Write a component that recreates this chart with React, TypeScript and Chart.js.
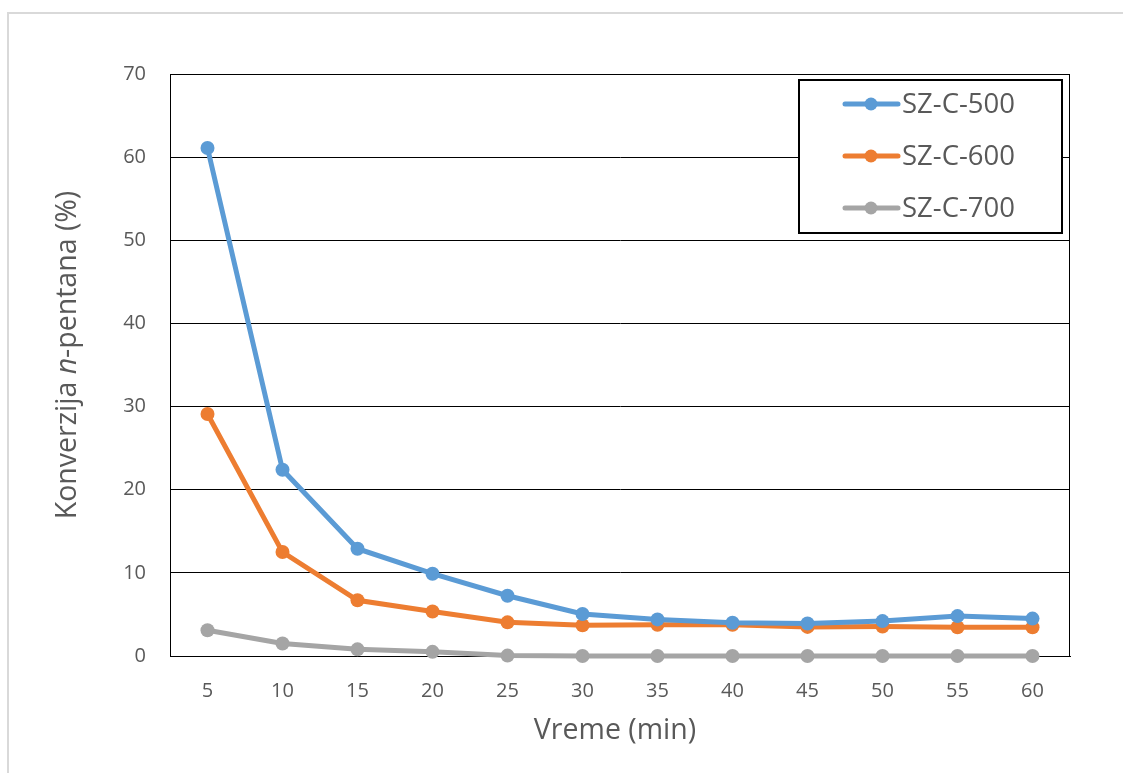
import React, { useEffect, useRef } from "react";
import { Chart, registerables } from "chart.js";

Chart.register(...registerables);

const categories = ["5", "10", "15", "20", "25", "30", "35", "40", "45", "50", "55", "60"];
const seriesNames = ["SZ-C-500", "SZ-C-600", "SZ-C-700"];
const sz500 = [61.1, 22.4, 12.9, 9.9, 7.25, 5.05, 4.4, 4.0, 3.9, 4.2, 4.8, 4.5];
const sz600 = [29.1, 12.5, 6.7, 5.35, 4.05, 3.7, 3.75, 3.75, 3.5, 3.55, 3.45, 3.45];
const sz700 = [3.1, 1.5, 0.8, 0.5, 0.05, 0, 0, 0, 0, 0, 0, 0];
const colors = ["#5B9BD5", "#ED7D31", "#A5A5A5"];
const yTicks = { min: 0, max: 70, step: 10 };
const xTitle = "Vreme (min)";
const yTitleParts = [
  { text: "Konverzija ", italic: false },
  { text: "n", italic: true },
  { text: "-pentana (%)", italic: false },
];

const FONT = "'Open Sans', sans-serif";
const TEXT = "#595959";

export default function App() {
  const ref = useRef<HTMLCanvasElement | null>(null);
  useEffect(() => {
    if (!ref.current) return;
    const overlay = {
      id: "overlay",
      afterDraw(chart: any) {
        const ctx = chart.ctx;
        const ca = chart.chartArea;
        ctx.save();
        // y title
        ctx.fillStyle = TEXT;
        ctx.textBaseline = "middle";
        ctx.textAlign = "left";
        const size = 28.5;
        const fonts = yTitleParts.map((p) => `${p.italic ? "italic " : ""}${size}px ${FONT}`);
        let total = 0;
        const widths = yTitleParts.map((p, i) => {
          ctx.font = fonts[i];
          const w = ctx.measureText(p.text).width;
          total += w;
          return w;
        });
        ctx.save();
        ctx.translate(68, (ca.top + ca.bottom) / 2 - 10);
        ctx.rotate(-Math.PI / 2);
        let x = -total / 2;
        yTitleParts.forEach((p, i) => {
          ctx.font = fonts[i];
          ctx.fillText(p.text, x, 0);
          x += widths[i];
        });
        ctx.restore();
        // x title
        ctx.font = `${size}px ${FONT}`;
        ctx.textAlign = "center";
        ctx.fillText(xTitle, (ca.left + ca.right) / 2 - 5, 731);
        // legend
        const lx = 799, ly = 80, lw = 263, lh = 153;
        ctx.fillStyle = "#fff";
        ctx.fillRect(lx, ly, lw, lh);
        ctx.strokeStyle = "#000";
        ctx.lineWidth = 2;
        ctx.strokeRect(lx, ly, lw, lh);
        chart.data.datasets.forEach((ds: any, i: number) => {
          const cy = 104 + i * 52;
          ctx.strokeStyle = ds.borderColor;
          ctx.lineWidth = 5;
          ctx.lineCap = "round";
          ctx.beginPath();
          ctx.moveTo(845, cy);
          ctx.lineTo(898, cy);
          ctx.stroke();
          ctx.fillStyle = ds.borderColor;
          ctx.beginPath();
          ctx.arc(871, cy, 6.5, 0, Math.PI * 2);
          ctx.fill();
          ctx.fillStyle = TEXT;
          ctx.font = `27.5px ${FONT}`;
          ctx.textAlign = "left";
          ctx.textBaseline = "middle";
          ctx.fillText(ds.label, 902, cy + 1);
        });
        ctx.restore();
      },
    };
    const chart = new Chart(ref.current, {
      type: "line",
      data: {
        labels: categories,
        datasets: [sz500, sz600, sz700].map((d, i) => ({
          label: seriesNames[i],
          data: d,
          borderColor: colors[i],
          backgroundColor: colors[i],
          borderWidth: 5,
          pointRadius: 7,
          pointHoverRadius: 7,
          pointBorderWidth: 0,
          tension: 0,
          clip: false as any,
        })),
      },
      options: {
        responsive: false,
        animation: false,
        layout: { padding: { top: 74, right: 53, left: 0, bottom: 0 } },
        plugins: { legend: { display: false }, tooltip: { enabled: false } },
        scales: {
          x: {
            offset: true,
            grid: { display: false, drawTicks: false },
            border: { display: true, color: "#000", width: 1 },
            ticks: { color: TEXT, font: { family: FONT, size: 20 }, padding: 23, maxRotation: 0 },
            afterFit: (s: any) => { s.height = 117; },
          },
          y: {
            min: yTicks.min,
            max: yTicks.max,
            grid: { color: "#000", lineWidth: 1, drawTicks: false },
            border: { display: true, color: "#000", width: 1 },
            ticks: { stepSize: yTicks.step, color: TEXT, font: { family: FONT, size: 20 }, padding: 24 },
            afterFit: (s: any) => { s.width = 170; },
          },
        },
      },
      plugins: [
        {
          id: "frame",
          beforeDatasetsDraw(chart: any) {
            const { ctx, chartArea: ca } = chart;
            ctx.save();
            ctx.strokeStyle = "#000";
            ctx.lineWidth = 1;
            ctx.strokeRect(ca.left + 0.5, ca.top + 0.5, ca.right - ca.left - 1, ca.bottom - ca.top);
            ctx.restore();
          },
        },
        overlay,
      ],
    });
    return () => chart.destroy();
  }, []);
  return (
    <div style={{ position: "absolute", left: 0, top: 0, width: 1123, height: 773, overflow: "hidden", background: "#fff" }}>
      <div style={{ position: "absolute", left: 7, top: 12, width: 1200, height: 900, border: "2px solid #d9d9d9" }} />
      <canvas ref={ref} width={1123} height={773} style={{ position: "absolute", left: 0, top: 0 }} />
    </div>
  );
}
